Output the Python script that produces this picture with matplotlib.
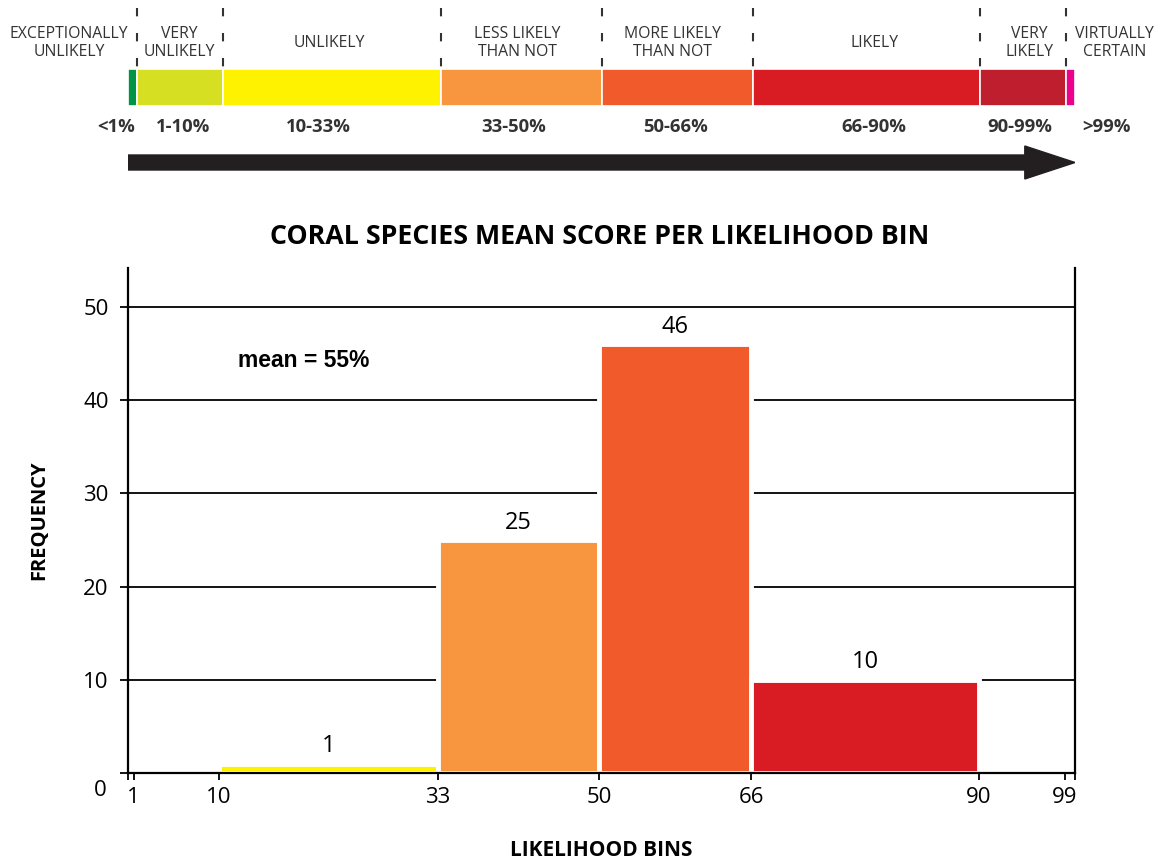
import matplotlib
matplotlib.use('Agg')
import matplotlib.pyplot as plt
import matplotlib.patches as mpatches

# likelihood scale (top strip)
scale_names = ['EXCEPTIONALLY\nUNLIKELY', 'VERY\nUNLIKELY', 'UNLIKELY', 'LESS LIKELY\nTHAN NOT',
               'MORE LIKELY\nTHAN NOT', 'LIKELY', 'VERY\nLIKELY', 'VIRTUALLY\nCERTAIN']
scale_ranges = ['<1%', '1-10%', '10-33%', '33-50%', '50-66%', '66-90%', '90-99%', '>99%']
scale_edges = [0, 1, 10, 33, 50, 66, 90, 99, 100]
scale_colors = ['#009444', '#d7df23', '#fff200', '#f7963f', '#f15a2b', '#d91b23', '#be1e2d', '#ec008c']

# histogram
bin_edges = [10, 33, 50, 66, 90]
counts = [1, 25, 46, 10]
bin_colors = ['#fff200', '#f7963f', '#f15a2b', '#d91b23']
xtick_vals = [1, 10, 33, 50, 66, 90, 99]
ytick_vals = [0, 10, 20, 30, 40, 50]

myriad = 'Open Sans'
W, H = 1160, 864
fig = plt.figure(figsize=(W / 100, H / 100), dpi=100)

x0, x1 = 128, 1075

# ---- top strip, y in pixels (inverted)
top = fig.add_axes([x0 / W, 1 - 185 / H, (x1 - x0) / W, 185 / H])
top.set_xlim(0, 100)
top.set_ylim(185, 0)
top.axis('off')

lefts = scale_edges[:-1]
widths = [b - a for a, b in zip(scale_edges[:-1], scale_edges[1:])]
top.bar(lefts, 37, width=widths, bottom=69, align='edge', color=scale_colors,
        edgecolor='white', linewidth=1.2)
top.vlines(scale_edges[1:-1], 8, 68, colors='#333333', linewidth=1.5,
           linestyles=(0, (4, 8)))

name_x = [-6.2, 5.4, 21.3, 41.1, 57.5, 78.8, 95.2, 104.2]
range_x = [-1.3, 5.8, 20.1, 40.7, 57.8, 78.8, 94.2, 103.3]
for nx, rx, nm, rg in zip(name_x, range_x, scale_names, scale_ranges):
    top.text(nx, 43, nm, ha='center', va='center', fontsize=11.3, family=myriad,
             color='#333333', linespacing=1.15, clip_on=False)
    top.text(rx, 127, rg, ha='center', va='center', fontsize=13.3, family=myriad,
             fontweight='bold', color='#333333', clip_on=False)

arrow = mpatches.FancyArrow(0, 162.5, 100, 0, width=15, head_width=33, head_length=5.3,
                            length_includes_head=True, color='#231f20')
top.add_patch(arrow)

# ---- histogram
ax = fig.add_axes([x0 / W, 1 - 773 / H, (x1 - x0) / W, (773 - 268) / H])
ax.set_xlim(0.4, 100.1)
ax.set_ylim(0, 54.2)
bw = [b - a for a, b in zip(bin_edges[:-1], bin_edges[1:])]
bars = ax.bar(bin_edges[:-1], counts, width=bw, align='edge', color=bin_colors,
              edgecolor='white', linewidth=3.5, zorder=2)
ax.bar_label(bars, labels=[str(c) for c in counts], padding=4, fontsize=17, family=myriad,
             bbox=dict(facecolor='white', edgecolor='none', pad=2), zorder=3)

ax.set_axisbelow(True)
ax.yaxis.grid(True, color='black', linewidth=1.3)
ax.spines['top'].set_visible(False)
for s in ['left', 'right', 'bottom']:
    ax.spines[s].set_linewidth(1.6)

ax.set_yticks(ytick_vals)
ax.set_yticklabels([''] + [str(v) for v in ytick_vals[1:]], fontsize=16, family=myriad)
ax.tick_params(axis='y', direction='out', length=6, width=1.3, pad=8)
ax.set_xticks(xtick_vals)
ax.set_xticklabels([str(v) for v in xtick_vals], fontsize=16, family=myriad)
ax.set_xticks([0.4, 100.1], minor=True)
ax.tick_params(axis='x', which='both', direction='out', length=5, width=1.3, pad=5)

ax.annotate('0', xy=(0, 0), xycoords='axes fraction', xytext=(-28, -17),
            textcoords='offset pixels', ha='center', va='center', fontsize=16,
            family=myriad, annotation_clip=False)

ax.set_ylabel('FREQUENCY', fontsize=14.5, family=myriad, fontweight='bold', labelpad=24)
ax.set_xlabel('LIKELIHOOD BINS', fontsize=15, family=myriad, fontweight='bold', labelpad=23)
ax.text(11.95, 44.3, 'mean = 55%', ha='left', va='center', fontsize=16.5,
        family='Liberation Sans', fontweight='bold')

fig.text(600 / W, 1 - 237 / H, 'CORAL SPECIES MEAN SCORE PER LIKELIHOOD BIN', ha='center',
         va='center', fontsize=19.3, family=myriad, fontweight='bold')

fig.savefig('out.png', dpi=100)
